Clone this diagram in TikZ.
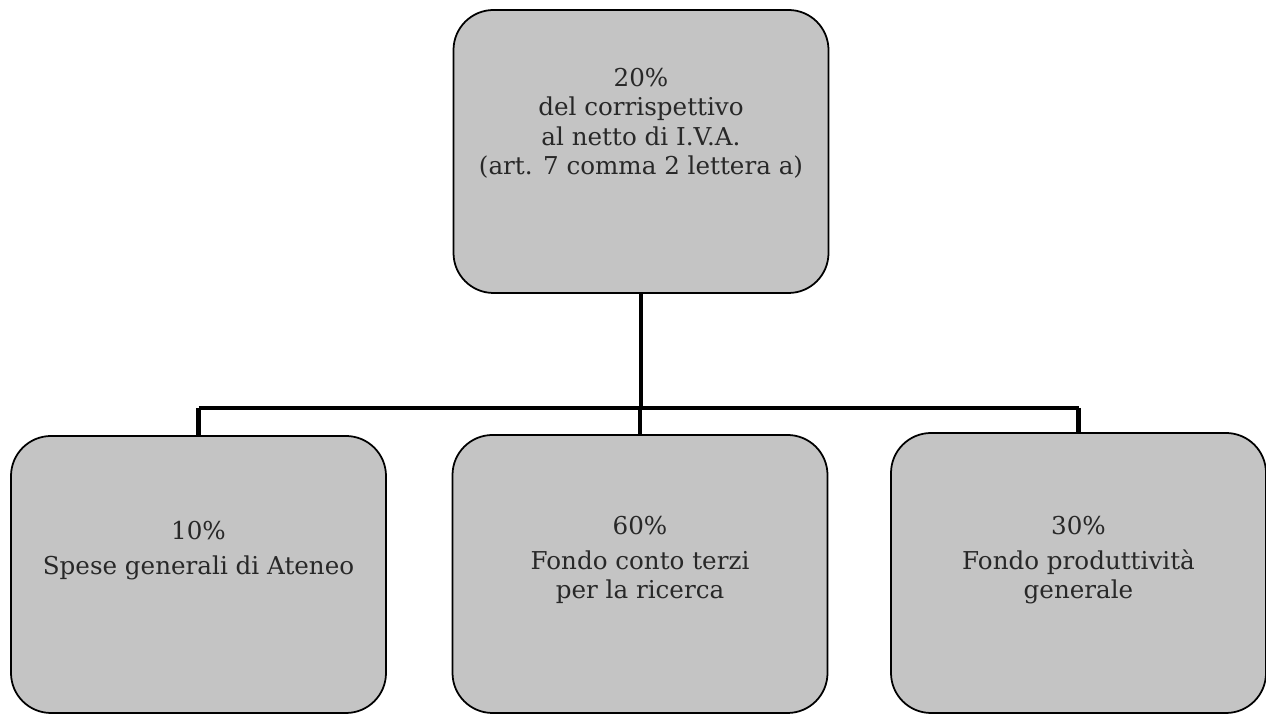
\documentclass[tikz,border=0pt]{standalone}
\usepackage{fontspec}
\setmainfont{DejaVu Serif}
\usetikzlibrary{calc}

\begin{document}
\begin{tikzpicture}[line cap=round,line join=round]
  % ----- styles & colors -----
    \definecolor{boxfill}{RGB}{196,196,196}  % halftone gray
    \definecolor{ink}{RGB}{40,40,40}         % text
  \tikzset{
    box/.style={draw=black,fill=boxfill,line width=1pt,rounded corners=0.8cm,
      minimum width=7.5cm,inner sep=0pt},
    txt/.style={align=center,text=ink,font=\fontsize{14}{16.8}\selectfont},
    conn/.style={draw=black,line width=2.6pt,line cap=butt}
  }

  % ----- canvas -----
  \useasboundingbox (0,0) rectangle (25.32,14.3);

  % ----- boxes -----
  \node[box,minimum height=5.66cm] (quota) at (12.82,11.27) {};
  \node[box,minimum height=5.54cm] (spese) at (3.97,2.81) {};
  \node[box,minimum height=5.56cm] (fondo) at (12.80,2.82) {};
  \node[box,minimum height=5.60cm] (prod)  at (21.57,2.84) {};

  % ----- texts -----
  \node[txt,yshift=0.56cm] (quotatxt) at (quota)
    {20\%\\del corrispettivo\\al netto di I.V.A.\\(art. 7 comma 2 lettera a)};
  \node[txt,yshift=0.48cm] (spesetxt) at (spese)
    {10\%\\[3pt]Spese generali di Ateneo};
  \node[txt,yshift=0.28cm] (fondotxt) at (fondo)
    {60\%\\[3pt]Fondo conto terzi\\per la ricerca};
  \node[txt,yshift=0.26cm] (prodtxt) at (prod)
    {30\%\\[3pt]Fondo produttività\\generale};

  % ----- connectors -----
  \coordinate (bar) at (12.82,6.14);
  \draw[conn] (quota.south) -- (bar);
  \draw[conn] (bar -| spese.north) -- (bar -| prod.north);
  \foreach \B in {spese,fondo,prod}{
    \draw[conn] (bar -| \B.north) -- (\B.north);
  }

\end{tikzpicture}
\end{document}
